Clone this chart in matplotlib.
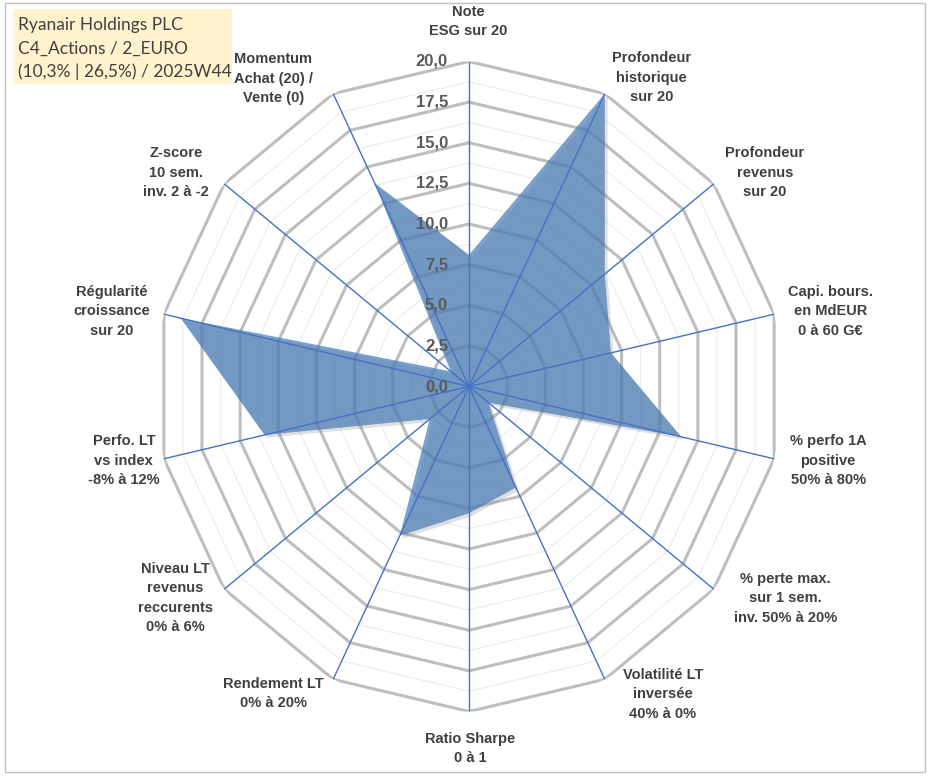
import numpy as np
import matplotlib
matplotlib.use("Agg")
import matplotlib.pyplot as plt
import matplotlib.patheffects as pe
from matplotlib.patches import Rectangle

# categories, clockwise from the top
categories = [
    "Note\nESG sur 20",
    "Profondeur\nhistorique\nsur 20",
    "Profondeur\nrevenus\nsur 20",
    "Capi. bours.\nen MdEUR\n0 à 60 G€",
    "% perfo 1A\npositive\n50% à 80%",
    "% perte max.\nsur 1 sem.\ninv. 50% à 20%",
    "Volatilité LT\ninversée\n40% à 0%",
    "Ratio Sharpe\n0 à 1",
    "Rendement LT\n0% à 20%",
    "Niveau LT\nrevenus\nreccurents\n0% à 6%",
    "Perfo. LT\nvs index\n-8% à 12%",
    "Régularité\ncroissance\nsur 20",
    "Z-score\n10 sem.\ninv. 2 à -2",
    "Momentum\nAchat (20) /\nVente (0)",
]
scores = [8.1, 20.0, 11.1, 9.3, 13.9, 1.6, 6.9, 7.8, 10.2, 3.2, 13.4, 18.9, 1.5, 13.9]
r_ticks = [0, 2.5, 5, 7.5, 10, 12.5, 15, 17.5, 20]
tick_labels = ["0,0", "2,5", "5,0", "7,5", "10,0", "12,5", "15,0", "17,5", "20,0"]
title_lines = ["Ryanair Holdings PLC", "C4_Actions / 2_EURO", "(10,3% | 26,5%) / 2025W44"]

# label offsets from the outer vertex, in pixels (x right, y down)
label_offsets = [(-1, -40), (47, -16), (51, -11), (56, -3), (54, 2), (72, 9), (58, 15),
                 (1, 37), (-60, 14), (-49, 9), (-40, 2), (-52, -3), (-48, -11), (-60, -15)]

W, H = 933, 776
fig = plt.figure(figsize=(W / 100, H / 100), dpi=100)
fig.patch.set_facecolor("white")

# outer frame
fig.patches.append(Rectangle((5 / W, 1 - 772 / H), 920 / W, 769 / H, transform=fig.transFigure,
                             fill=False, edgecolor="#BFBFBF", linewidth=1))

cx, cy, rx, ry = 469, 386.5, 313, 325
ax = fig.add_axes([(cx - rx) / W, (H - cy - ry) / H, 2 * rx / W, 2 * ry / H], projection="polar")
ax.set_aspect("auto")
ax.set_theta_zero_location("N")
ax.set_theta_direction(-1)
ax.set_ylim(0, 20)
ax.grid(False)
ax.spines["polar"].set_visible(False)
ax.set_xticks([])
ax.set_yticks([])
ax.patch.set_alpha(0)

n = len(categories)
theta = np.arange(n) * 2 * np.pi / n
theta_c = np.append(theta, theta[0])

# minor and major polygon rings
for v in np.arange(1.25, 20, 2.5):
    ax.plot(theta_c, [v] * (n + 1), color="#EBEBEB", lw=0.8, zorder=1)
for v in r_ticks[1:]:
    ax.plot(theta_c, [v] * (n + 1), color="#BEBEBE", lw=2.2, zorder=1)

# data polygon
vals = np.append(scores, scores[0])
ax.fill(theta_c, vals, color="#4A7DB8", alpha=0.72, lw=0, zorder=2,
        path_effects=[pe.SimplePatchShadow(offset=(2, -2), shadow_rgbFace="#808080", alpha=0.25),
                      pe.Normal()])

# spokes
for t in theta:
    ax.plot([t, t], [0, 20], color="#4472C4", lw=1.0, zorder=3)

# radial tick labels
for v, lab in zip(r_ticks, tick_labels):
    ax.annotate(lab, xy=(0, v), xytext=(-21, 0), textcoords="offset pixels",
                ha="right", va="center", fontsize=12, fontweight="bold",
                family="Liberation Sans", color="#595959", zorder=4)

# category labels
for t, lab, (dx, dy) in zip(theta, categories, label_offsets):
    ax.annotate(lab, xy=(t, 20), xytext=(dx, -dy), textcoords="offset pixels",
                ha="center", va="center", fontsize=10.5, fontweight="bold",
                family="Liberation Sans", color="#404040", linespacing=1.5,
                annotation_clip=False)

# title box
fig.patches.append(Rectangle((13 / W, 1 - 84 / H), 219 / W, 75 / H, transform=fig.transFigure,
                             facecolor="#FFF2CC", edgecolor="none"))
for i, line in enumerate(title_lines):
    fig.text(18 / W, 1 - (25 + 23.5 * i) / H, line, ha="left", va="center",
             fontsize=12.5, family="Lato", color="#404040")

fig.savefig("out.png", dpi=100)
